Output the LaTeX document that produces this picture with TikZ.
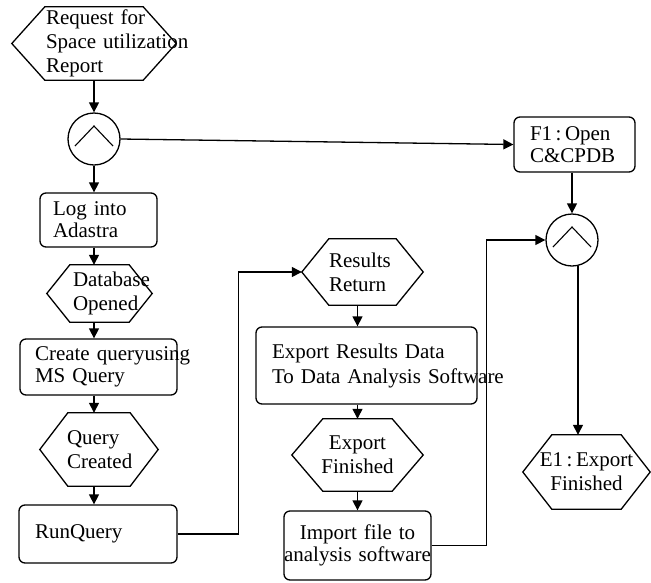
\documentclass[tikz,border=0pt]{standalone}
\usepackage{fontspec}
\setmainfont{Liberation Serif}
\usetikzlibrary{arrows.meta}
\newcommand{\cl}[1]{\makebox[\hsize][c]{#1}}
\tikzset{
  line/.style={draw=black, line width=1.3pt},
  arr/.style={line, -{Triangle[length=10pt,width=10pt]}},
  boxn/.style={rectangle, line, rounded corners=6pt, inner ysep=0pt, align=left,
    font=\fontsize{21}{22}\selectfont},
  hexn/.style={rectangle, draw=none, inner ysep=0pt,
    font=\fontsize{21}{24}\selectfont},
  circn/.style={circle, line, minimum size=52pt, inner sep=0pt},
  caret/.style={draw=black, line width=1.1pt}
}
\begin{document}
\begin{tikzpicture}[x=1pt,y=-1pt]
\useasboundingbox (0,0) rectangle (651,582);
% left column
\node[hexn, minimum width=164pt, minimum height=73pt, inner xsep=34pt, text width=96pt, align=left,
  font=\fontsize{21}{24}\selectfont] (req) at (94,43.5) {\mbox{Request for}\\\mbox{Space utilization}\\\mbox{Report}};
\node[circn] (c1) at (94,139) {};
\node[boxn, minimum height=54pt, inner xsep=13pt, text width=91pt] (log) at (98.5,220) {\mbox{Log into}\\\mbox{Adastra}};
\node[hexn, minimum width=105pt, minimum height=57pt, inner xsep=26pt, text width=53pt, align=left] (db) at (99.5,293.5) {\mbox{Database}\\\mbox{Opened}};
\node[boxn, minimum height=56pt, inner xsep=15pt, text width=127pt] (cq) at (98.5,367) {\mbox{Create queryusing}\\\mbox{MS Query}};
\node[hexn, minimum width=118pt, minimum height=73pt, inner xsep=27pt, text width=64pt, align=left] (qc) at (99,449.5) {\mbox{Query}\\\mbox{Created}};
\node[boxn, minimum height=58pt, inner xsep=16pt, text width=126pt] (rq) at (98,534) {\mbox{RunQuery}};
% middle column
\node[hexn, minimum width=121pt, minimum height=66pt, inner xsep=27pt, text width=67pt, align=left] (rr) at (362.5,272) {\mbox{Results}\\\mbox{Return}};
\node[boxn, minimum height=77pt, inner xsep=16pt, text width=189pt, font=\fontsize{21}{25}\selectfont] (exp) at (366.5,365.5) {\mbox{Export Results Data}\\\mbox{To Data Analysis Software}};
\node[hexn, minimum width=131pt, minimum height=72pt, inner xsep=28pt, text width=75pt, align=left] (ef) at (357.5,455) {\cl{Export}\\\cl{Finished}};
\node[boxn, minimum height=69pt, inner xsep=10pt, text width=127pt, align=left] (imp) at (357.5,545.5) {\cl{Import file to}\\\cl{analysis software}};
% right column
\node[boxn, minimum height=55pt, inner xsep=16pt, text width=89pt] (f1) at (574.5,144.5) {\mbox{F1\,:\,Open}\\\mbox{C\&CPDB}};
\node[circn] (c2) at (572,240) {};
\node[hexn, minimum width=127pt, minimum height=74pt, inner xsep=20pt, text width=87pt, align=left] (e1) at (586.5,472) {\cl{E1\,:\,Export}\\\cl{Finished}};
% hexagon outlines
\foreach \n/\t in {req/33, db/23, qc/28, rr/27, ef/31, e1/29}
  \draw[line] (\n.west) -- ([xshift=\t]\n.north west) -- ([xshift=-\t]\n.north east)
    -- (\n.east) -- ([xshift=-\t]\n.south east) -- ([xshift=\t]\n.south west) -- cycle;
% carets in circles
\foreach \n in {c1, c2}
  \draw[caret] ([shift={(-19,7)}]\n.center) -- ([shift={(0,-13)}]\n.center) -- ([shift={(19,7)}]\n.center);
% connectors
\draw[arr] (c1 |- req.south) -- (c1.north);
\draw[arr] (c1.south) -- (c1.south |- log.north);
\draw[arr] (c1 |- log.south) -- (c1 |- db.north);
\draw[arr] (c1 |- db.south) -- (c1 |- cq.north);
\draw[arr] (c1 |- cq.south) -- (c1 |- qc.north);
\draw[arr] (c1 |- qc.south) -- (c1 |- rq.north);
\draw[arr] (rq.east) -- ++(61,0) |- (rr.west);
\draw[arr] (ef |- rr.south) -- (ef |- exp.north);
\draw[arr] (ef |- exp.south) -- (ef.north);
\draw[arr] (ef.south) -- (ef |- imp.north);
\draw[arr] (imp.east) -- ++(55,0) |- (c2.west);
\draw[arr] (c1.east) -- (f1.west);
\draw[arr] (c2 |- f1.south) -- (c2.north);
\draw[arr] (c2.-77) -- (c2.-77 |- e1.north);
\end{tikzpicture}
\end{document}
